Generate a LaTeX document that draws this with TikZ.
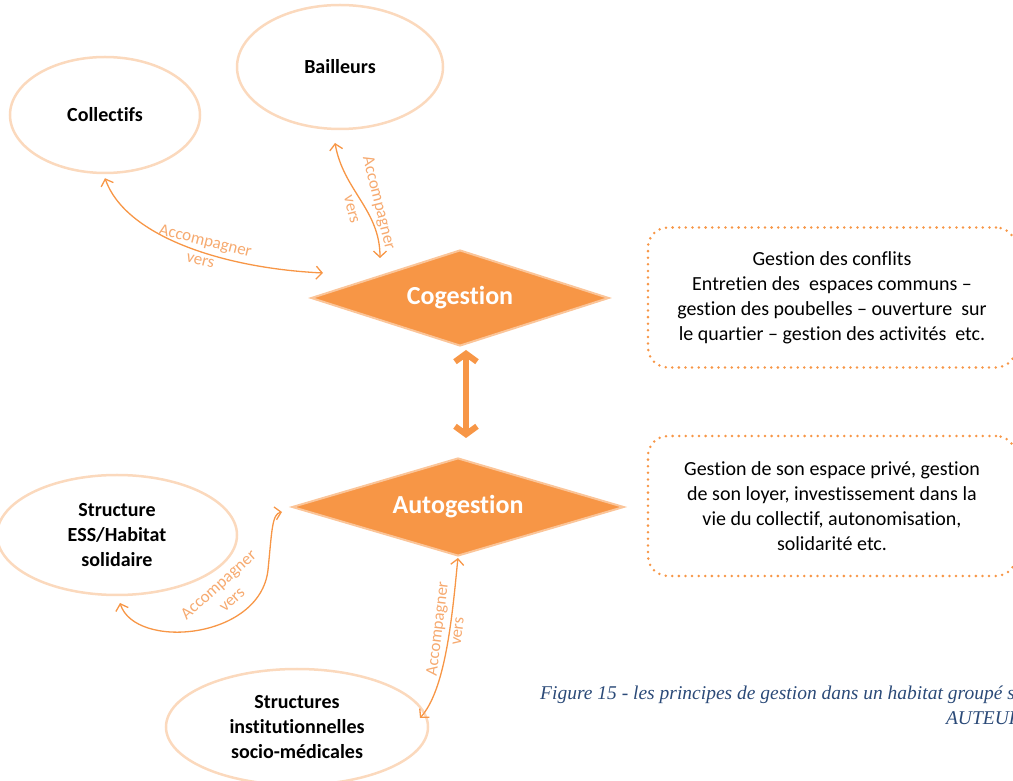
\documentclass[tikz,border=0pt]{standalone}
\usepackage{fontspec}
\setmainfont{Carlito}[Ligatures=NoCommon]
\newfontfamily\capfont{Liberation Serif}
\usetikzlibrary{shapes.geometric,arrows.meta,calc}
\definecolor{orangeacc}{HTML}{F79646}
\definecolor{peach}{HTML}{FBD9BD}
\definecolor{labelorange}{HTML}{F6AA70}
\definecolor{capblue}{HTML}{2B4A78}

\tikzset{
  acteur/.style={ellipse, draw=peach, line width=2.5pt, align=center,
    font=\bfseries\fontsize{20}{25}\selectfont},
  gestion/.style={diamond, aspect=3, fill=orangeacc, draw=orangeacc!55!white, line width=2pt,
    inner sep=0pt, text=white, font=\bfseries\fontsize{26}{30}\selectfont},
  principe/.style={draw=orangeacc, line width=2.8pt, line cap=round,
    dash pattern=on 0pt off 6.6pt, rounded corners=20pt,
    minimum width=368pt, minimum height=140pt, align=center,
    font=\fontsize{20}{25}\selectfont},
  accomp/.style={draw=orangeacc, line width=1.3pt,
    >={Straight Barb[length=6pt,width=13pt]}, <->},
  etiquette/.style={text=labelorange, align=center, font=\fontsize{17}{20}\selectfont}
}

\begin{document}
\begin{tikzpicture}[x=1pt,y=1pt]
\useasboundingbox (0,0) rectangle (1013,780);
\clip (0,0) rectangle (1013,780);

% the four actors
\node[acteur, minimum width=190pt, minimum height=116pt] (coll) at (105,665) {Collectifs};
\node[acteur, minimum width=206pt, minimum height=124pt] (bail) at (340,713) {Bailleurs};
\node[acteur, minimum width=240pt, minimum height=120pt] (ess) at (117,245)
  {Structure\\ESS/Habitat\\solidaire};
\node[acteur, minimum width=262pt, minimum height=116pt] (inst) at (297,53)
  {Structures\\institutionnelles\\socio-m\'edicales};

% the two ways of managing
\node[gestion, minimum width=298pt, minimum height=96pt] (cog) at (460,482) {Cogestion};
\node[gestion, minimum width=332pt, minimum height=98pt] (auto) at (458,273) {Autogestion};

% thick double arrow between them
\draw[orangeacc, line width=6pt,
  {Straight Barb[length=8pt,width=22pt]}-{Straight Barb[length=8pt,width=22pt]},
  shorten <=3pt, shorten >=19pt] ([xshift=6pt]cog.south) -- ([xshift=8pt]auto.north);

% what each one covers
\node[principe] (txtcog) at (832,482.5)
  {Gestion des conflits\\Entretien des\ \ espaces communs --\\
   gestion des poubelles -- ouverture\ \ sur\\le quartier -- gestion des activit\'es\ \ etc.};
\node[principe] (txtauto) at (832,274)
  {Gestion de son espace priv\'e,\ gestion\\de son loyer,\ investissement dans la\\
   vie du collectif, autonomisation,\\solidarit\'e etc.};

% free ends of the accompanying arrows
\coordinate (collend) at (323,507);
\coordinate (bailtop) at (335,637);
\coordinate (cogtop) at (380,522);
\coordinate (essend) at (282,268);
\coordinate (essbot) at (120,177);
\coordinate (instend) at (420,62);

% accompanying arrows
\draw[accomp] ([yshift=-4pt]coll.south) .. controls (125,545) and (220,512) .. (collend);
\draw[accomp] (bailtop) to[out=-80,in=90] (cogtop);
\draw[accomp] (essbot) .. controls (135,130) and (260,140) .. (268,210)
  .. controls (272,250) and (272,266) .. (essend);
\draw[accomp, shorten >=1pt] (instend) .. controls (445,90) and (452,160) .. (auto.south);

% their labels
\node[etiquette, rotate=-14] (lab1) at (203,530) {Accompagner\\vers};
\node[etiquette, rotate=-76] (lab2) at (366,574) {Accompagner\\[8pt]vers};
\node[etiquette, rotate=42] (lab3) at (225,188) {Accompagner\\vers};
\node[etiquette, rotate=83] (lab4) at (447,150) {Accompagner\\vers};

% caption
\node[anchor=base west, inner sep=0pt, text=capblue,
  font=\capfont\itshape\fontsize{19.5}{21}\selectfont] (legende) at (540,81)
  {Figure 15 - les principes de gestion dans un habitat group\'e s};
\node[anchor=base east, inner sep=0pt, text=capblue,
  font=\capfont\itshape\fontsize{19.5}{21}\selectfont] (auteur) at (1021,56) {AUTEUR};
\end{tikzpicture}
\end{document}
